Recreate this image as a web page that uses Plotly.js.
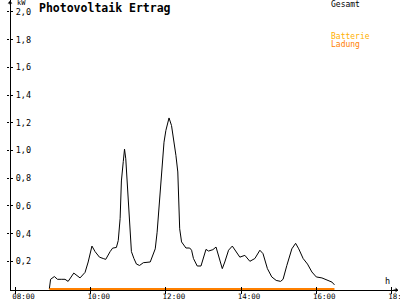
<!DOCTYPE html>
<html>
<head>
<meta charset="utf-8">
<script src="https://cdn.plot.ly/plotly-3.0.1.min.js"></script>
<style>html,body{margin:0;padding:0;background:#fff;}#chart{width:400px;height:300px;}</style>
</head>
<body>
<div id="chart"></div>
<script>
const day = '2024-06-01';
const times = ['08:54','08:56','09:02','09:07','09:13','09:19','09:24','09:33','09:43','09:51','09:56',
  '10:02','10:07','10:14','10:20','10:24','10:31','10:35','10:41','10:44','10:47','10:49','10:52','10:54','10:56','10:58',
  '11:00','11:03','11:05','11:09','11:13','11:18','11:24','11:35','11:39','11:43','11:46','11:49','11:52','11:55','11:57',
  '12:00','12:03','12:05','12:09','12:13','12:16','12:19','12:21','12:22','12:25','12:32','12:38','12:41','12:44','12:50','12:56',
  '13:04','13:08','13:15','13:20','13:25','13:30','13:34','13:40','13:46','13:52','13:58',
  '14:06','14:14','14:22','14:30','14:35','14:42','14:49','14:56',
  '15:03','15:07','15:13','15:21','15:27','15:32','15:39','15:46','15:53',
  '16:00','16:09','16:17','16:25','16:29'];
const gesamt = [0.00,0.07,0.09,0.07,0.07,0.07,0.055,0.115,0.08,0.12,0.195,
  0.31,0.27,0.23,0.22,0.214,0.27,0.295,0.30,0.35,0.51,0.78,0.92,1.01,0.94,0.78,
  0.62,0.41,0.27,0.22,0.18,0.17,0.19,0.195,0.24,0.29,0.41,0.58,0.72,0.89,1.06,
  1.145,1.19,1.235,1.18,1.07,0.965,0.845,0.65,0.435,0.34,0.296,0.296,0.28,0.22,0.166,0.166,
  0.286,0.274,0.284,0.303,0.22,0.147,0.195,0.28,0.31,0.267,0.23,
  0.243,0.2,0.22,0.28,0.255,0.147,0.087,0.062,
  0.055,0.07,0.17,0.29,0.33,0.29,0.22,0.18,0.123,
  0.087,0.08,0.067,0.05,0.03];
const ladungTimes = ['08:54','16:29'];
const ladung = [0, 0];
const xTickTimes = ['08:00','10:00','12:00','14:00','16:00','18:00'];
const yTickVals = [0.2,0.4,0.6,0.8,1.0,1.2,1.4,1.6,1.8,2.0];
const legendNames = ['Gesamt','Batterie','Ladung'];
const seriesColors = ['#000000','#ffb000','#ff8000'];

const toDate = t => day + ' ' + t;
const xRange = [toDate('07:51:14'), toDate('18:10:24')];
const yRange = [-0.0072, 2.0866];
const mono = 'DejaVu Sans Mono, monospace';

const traces = [
  {x: times.map(toDate), y: gesamt, type: 'scatter', mode: 'lines', name: legendNames[0],
   line: {color: seriesColors[0], width: 1}, showlegend: false, hoverinfo: 'skip'},
  {x: ladungTimes.map(toDate), y: ladung, type: 'scatter', mode: 'lines', name: legendNames[2],
   xaxis: 'x2', yaxis: 'y2',
   line: {color: seriesColors[2], width: 2}, showlegend: false, hoverinfo: 'skip'}
];

const layout = {
  width: 400, height: 300,
  margin: {l: 10, r: 2, t: 0, b: 10, pad: 0},
  paper_bgcolor: '#ffffff', plot_bgcolor: '#ffffff',
  separators: ',.',
  showlegend: false,
  font: {family: mono, size: 8, color: '#000'},
  title: {text: '<b>Photovoltaik Ertrag</b>', font: {family: mono, size: 11.5, color: '#000'},
          x: 0.0975, xanchor: 'left', xref: 'container', y: 0.972, yanchor: 'middle', yref: 'container'},
  xaxis: {type: 'date', range: xRange, showgrid: false, zeroline: false,
          showline: true, linecolor: '#000', linewidth: 1, layer: 'below traces',
          tickvals: xTickTimes.map(toDate), tickformat: '%H:%M',
          ticks: 'outside', ticklen: 3, tickcolor: '#000', tickwidth: 1,
          tickfont: {family: mono, size: 7.5, color: '#000'}, ticklabelshift: 8, ticklabelstandoff: -4,
          ticklabeloverflow: 'allow',
          fixedrange: true},
  yaxis: {range: yRange, showgrid: false, zeroline: false,
          anchor: 'free', position: 0, side: 'right',
          showline: true, linecolor: '#000', linewidth: 1,
          tickvals: yTickVals, tickformat: '.1f',
          ticks: 'outside', ticklen: 2, tickcolor: '#000', tickwidth: 1, ticklabelstandoff: 1,
          tickfont: {family: mono, size: 8.5, color: '#000'},
          fixedrange: true},
  xaxis2: {type: 'date', range: xRange, overlaying: 'x', showgrid: false, zeroline: false, showline: false,
           tickvals: xTickTimes.map(toDate), ticks: 'inside', ticklen: 3, tickcolor: '#000', tickwidth: 1,
           showticklabels: false, fixedrange: true},
  yaxis2: {range: yRange, overlaying: 'y', showgrid: false, zeroline: false, showline: false,
           tickvals: yTickVals, ticks: 'outside', ticklen: 2, tickcolor: '#000', tickwidth: 1,
           showticklabels: false, fixedrange: true},
  annotations: [
    {text: 'kW', xref: 'paper', yref: 'paper', x: 0.012, y: 0.99, xanchor: 'left', yanchor: 'middle',
     showarrow: false, font: {family: mono, size: 7, color: '#000'}},
    {text: 'h', xref: 'paper', yref: 'paper', x: 0.972, y: 0.03, xanchor: 'center', yanchor: 'middle',
     showarrow: false, font: {family: mono, size: 8.5, color: '#000'}},
    {text: legendNames[0], xref: 'paper', yref: 'paper', x: 0.822, y: 0.985, xanchor: 'left', yanchor: 'middle',
     showarrow: false, font: {family: mono, size: 8, color: seriesColors[0]}},
    {text: legendNames[1], xref: 'paper', yref: 'paper', x: 0.822, y: 0.875, xanchor: 'left', yanchor: 'middle',
     showarrow: false, font: {family: mono, size: 8, color: seriesColors[1]}},
    {text: legendNames[2], xref: 'paper', yref: 'paper', x: 0.822, y: 0.847, xanchor: 'left', yanchor: 'middle',
     showarrow: false, font: {family: mono, size: 8, color: seriesColors[2]}},
    {text: '', xref: 'paper', yref: 'paper', x: 0, y: 1, ax: 0, ay: 6, showarrow: true,
     arrowhead: 1, arrowsize: 0.8, arrowwidth: 1, arrowcolor: '#000'},
    {text: '', xref: 'paper', yref: 'paper', x: 1, y: 0, ax: -6, ay: 0, showarrow: true,
     arrowhead: 1, arrowsize: 0.8, arrowwidth: 1, arrowcolor: '#000'}
  ]
};

Plotly.newPlot('chart', traces, layout, {staticPlot: true, displayModeBar: false});
</script>
</body>
</html>
